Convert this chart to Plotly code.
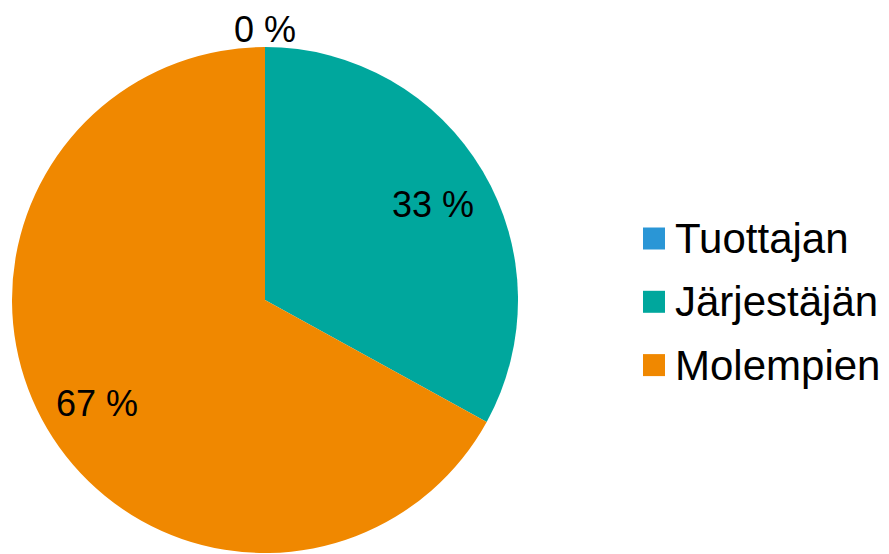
import math
import plotly.graph_objects as go

labels = ["Tuottajan", "Järjestäjän", "Molempien"]
values = [0, 33, 67]
colors = ["#2A96D6", "#00A79D", "#F08800"]

# page body has an 8px margin; work in figure coordinates offset by it
OFF = 8
W, H = 889 - OFF, 554 - OFF
cx, cy, R = 265 - OFF, 300 - OFF, 253
FONT = "Liberation Sans, Arial, sans-serif"

fig = go.Figure()
fig.add_trace(go.Pie(
    labels=labels, values=values, sort=False, direction="clockwise", rotation=0,
    marker=dict(colors=colors, line=dict(width=0)),
    textinfo="none", showlegend=False, hoverinfo="label+value",
    domain=dict(x=[(cx - R) / W, (cx + R) / W], y=[(H - cy - R) / H, (H - cy + R) / H]),
))

# data labels placed from slice angles
total = sum(values)
start = 0.0
annotations = []
for lab, v in zip(labels, values):
    frac = v / total
    mid = (start + frac / 2) * 2 * math.pi
    start += frac
    if v == 0:
        # outside label above the slice, anchored at the top edge
        annotations.append(dict(x=(cx + R * math.sin(mid)) / W, y=1, xref="paper", yref="paper",
                                text=f"{v} %", showarrow=False, borderpad=0,
                                font=dict(family=FONT, size=36, color="black"),
                                xanchor="center", yanchor="top"))
        continue
    r = 0.77 * R
    px = cx + r * math.sin(mid)
    py = cy - r * math.cos(mid) + 4
    annotations.append(dict(x=px / W, y=1 - py / H, xref="paper", yref="paper",
                            text=f"{v} %", showarrow=False,
                            font=dict(family=FONT, size=36, color="black"),
                            xanchor="center", yanchor="middle"))

# legend built from labels/colors
shapes = []
leg_x, leg_y0, leg_dy, sq = 643 - OFF, 238.5 - OFF, 63.3, 22
for i, (lab, col) in enumerate(zip(labels, colors)):
    yc = leg_y0 + i * leg_dy
    shapes.append(dict(type="rect", xref="paper", yref="paper",
                       x0=leg_x / W, x1=(leg_x + sq) / W,
                       y0=1 - (yc + sq / 2) / H, y1=1 - (yc - sq / 2) / H,
                       fillcolor=col, line=dict(width=0)))
    annotations.append(dict(x=(leg_x + sq + 8) / W, y=1 - yc / H, xref="paper", yref="paper",
                            text=lab, showarrow=False, xanchor="left", yanchor="middle",
                            font=dict(family=FONT, size=42, color="black")))

fig.update_layout(
    width=W, height=H, margin=dict(l=0, r=0, t=0, b=0),
    paper_bgcolor="white", plot_bgcolor="white",
    font=dict(family=FONT, color="black"),
    annotations=annotations, shapes=shapes,
)
fig.write_html("out.html")
